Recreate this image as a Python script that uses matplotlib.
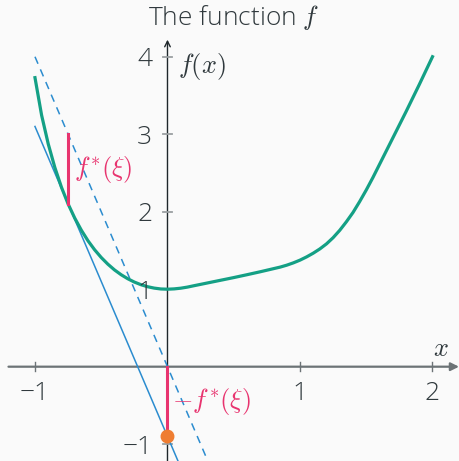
import matplotlib
matplotlib.use("Agg")
import matplotlib.pyplot as plt

plt.rcParams['font.family'] = ['Open Sans', 'DejaVu Sans']
plt.rcParams['font.weight'] = 'light'
plt.rcParams['mathtext.fontset'] = 'cm'

# sampled values of f on [-1, 2]
curve_x = [-1.0, -0.95, -0.9, -0.85, -0.8, -0.75, -0.7, -0.65, -0.6, -0.55,
           -0.5, -0.45, -0.4, -0.35, -0.3, -0.25, -0.2, -0.15, -0.1, -0.05,
           0.0, 0.05, 0.1, 0.15, 0.2, 0.3, 0.4, 0.5, 0.6, 0.7, 0.8, 0.85,
           0.9, 0.95, 1.0, 1.05, 1.1, 1.15, 1.2, 1.25, 1.3, 1.35, 1.4,
           1.45, 1.5, 1.55, 1.6, 1.7, 1.8, 1.9, 2.0]
curve_y = [3.73, 3.245, 2.875, 2.57, 2.315, 2.10, 1.918, 1.761, 1.625, 1.509,
           1.409, 1.323, 1.249, 1.187, 1.135, 1.092, 1.058, 1.032, 1.014, 1.003,
           1.0, 1.004, 1.013, 1.027, 1.045, 1.08, 1.115, 1.15, 1.187, 1.225,
           1.265, 1.285, 1.31, 1.34, 1.375, 1.417, 1.465, 1.52, 1.585, 1.665,
           1.76, 1.87, 1.99, 2.13, 2.28, 2.44, 2.61, 2.95, 3.29, 3.64, 4.0]

xi = -4.0        # slope
fstar = 0.9      # f*(xi)
x_touch = -0.75  # where the sup is reached
f_touch = 2.1

x_ticks = [-1, 1, 2]
x_tick_labels = ['\u22121', '1', '2']
y_ticks = [-1, 1, 2, 3, 4]
y_tick_labels = ['\u22121', '1', '2', '3', '4']

GREEN = '#14a085'
BLUE = '#2b8ccf'
PINK = '#e8346f'
ORANGE = '#ef7d31'
TEXT = '#30393d'

fig = plt.figure(figsize=(4.59, 4.61), dpi=100, facecolor='#fafafa')
ax = fig.add_axes([0, 0, 1, 1])
ax.set_facecolor('#fafafa')
ax.set_xlim(-1.264, 2.2)
ax.set_ylim(-1.217, 4.732)
ax.axis('off')

# axes through the origin
ax.annotate('', xy=(2.2, 0), xytext=(-1.2, 0), zorder=1,
            arrowprops=dict(arrowstyle='-|>', color='#6c7376', lw=1.6,
                            mutation_scale=12, shrinkA=0, shrinkB=0))
ax.annotate('', xy=(0, 4.22), xytext=(0, -1.25), zorder=1,
            arrowprops=dict(arrowstyle='->', color='#1f272b', lw=1.0,
                            mutation_scale=10, shrinkA=0, shrinkB=0))
for t, lab in zip(x_ticks, x_tick_labels):
    ax.plot([t, t], [-0.055, 0.055], color='#6c7376', lw=1.0, zorder=1)
    ax.text(t, -0.34, lab, ha='center', va='center', fontsize=19, color=TEXT)
for t, lab in zip(y_ticks, y_tick_labels):
    ax.plot([-0.035, 0.035], [t, t], color='#9a9fa1', lw=1.3, zorder=1)
    ax.text(-0.115, t - 0.04, lab, ha='right', va='center', fontsize=19,
            color=TEXT)

ax.text(2.06, 0.22, r'$x$', fontsize=19, color=TEXT, ha='center', va='center')
ax.text(0.26, 3.87, r'$f(x)$', fontsize=19, color=TEXT, ha='center',
        va='center')
ax.text(0.5, 4.50, r'The function $f$', fontsize=19, color=TEXT,
        ha='center', va='center')

# supporting lines
lx = [-1.0, 0.5]
ax.plot(lx, [xi * v for v in lx], color=BLUE, lw=1.1, ls=(0, (5, 4)))
ax.plot(lx, [xi * v - fstar for v in lx], color=BLUE, lw=1.1)

ax.plot(curve_x, curve_y, color=GREEN, lw=2.3, solid_joinstyle='round')

# conjugate value as vertical segments
ax.plot([x_touch, x_touch], [f_touch, xi * x_touch], color=PINK, lw=2.2)
ax.text(x_touch + 0.045, 2.54, r'$f^{\!*}\!(\xi)$', fontsize=19, color=PINK,
        ha='left', va='center')
ax.plot([0, 0], [0, -fstar], color=PINK, lw=2.2)
ax.text(0.035, -0.45, r'$-f^{\!*}\!(\xi)$', fontsize=19, color=PINK,
        ha='left', va='center')
ax.plot([0], [-fstar], 'o', color=ORANGE, ms=9, zorder=5)

fig.savefig('out.png', dpi=100, facecolor=fig.get_facecolor())
